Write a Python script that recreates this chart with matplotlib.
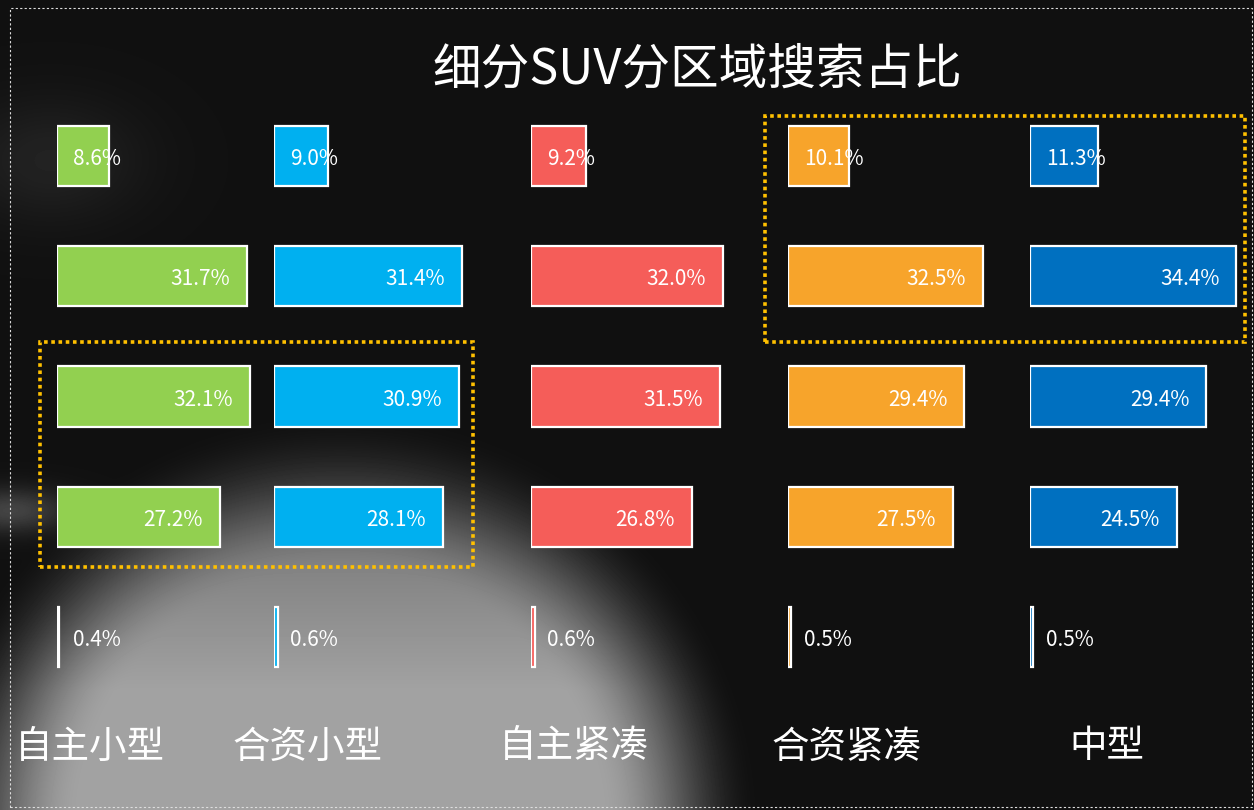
import numpy as np
import matplotlib
matplotlib.use("Agg")
import matplotlib.pyplot as plt
from matplotlib.patches import Rectangle

plt.rcParams['font.family'] = ['Noto Sans CJK SC', 'DejaVu Sans']

# ---------------- data ----------------
title = "细分SUV分区域搜索占比"
categories = ["自主小型", "合资小型", "自主紧凑", "合资紧凑", "中型"]
ziz_xiao = [8.6, 31.7, 32.1, 27.2, 0.4]
hez_xiao = [9.0, 31.4, 30.9, 28.1, 0.6]
ziz_jin = [9.2, 32.0, 31.5, 26.8, 0.6]
hez_jin = [10.1, 32.5, 29.4, 27.5, 0.5]
zhong = [11.3, 34.4, 29.4, 24.5, 0.5]
series = [ziz_xiao, hez_xiao, ziz_jin, hez_jin, zhong]
colors = ["#92D050", "#00B0F0", "#F55D59", "#F7A42B", "#0070C0"]

# ---------------- figure ----------------
W, H = 1254, 810
fig = plt.figure(figsize=(W / 100, H / 100), dpi=100)
fig.patch.set_facecolor("#111111")

# decorative background (gray photo-like glow)
bg_ax = fig.add_axes([0, 0, 1, 1], zorder=0)
X, Y = np.meshgrid(np.arange(W), np.arange(H))
r = np.sqrt(((X - 340) / 420) ** 2 + ((Y - 830) / 420) ** 2)
s = np.clip((1.0 - r) / 0.38, 0, 1)
s = s * s * (3 - 2 * s)
v = 0.55 + 0.45 * np.clip((Y - 430) / 260, 0, 1)
bg = 0.065 + 0.57 * s * v
bg += 0.07 * np.exp(-(((X - 50) / 90) ** 2 + ((Y - 160) / 60) ** 2))
bg += 0.20 * np.exp(-(((X - 10) / 60) ** 2 + ((Y - 510) / 22) ** 2))
bg = np.clip(bg, 0, 1)
bg_ax.imshow(bg, cmap="gray", vmin=0, vmax=1, aspect="auto",
             extent=[0, W, H, 0], interpolation="bilinear")
bg_ax.set_xlim(0, W)
bg_ax.set_ylim(H, 0)
bg_ax.axis("off")

# bar axes: one per column
px_per_pct = 6.0
col_x0 = [57, 274, 531, 788, 1030]
row_top, row_bot = 96, 697
span_pct = 40
for i, (vals, col) in enumerate(zip(series, colors)):
    ax = fig.add_axes([col_x0[i] / W, (H - row_bot) / H,
                       span_pct * px_per_pct / W, (row_bot - row_top) / H],
                      zorder=2)
    ax.patch.set_alpha(0)
    ax.set_xlim(0, span_pct)
    ax.set_ylim(len(vals) - 0.5, -0.5)
    ax.axis("off")
    ypos = np.arange(len(vals))
    ax.barh(ypos, vals, height=0.5, color=col, edgecolor="white",
            linewidth=1.6)
    for y, v_ in zip(ypos, vals):
        if v_ < 15:
            ax.annotate(f"{v_:.1f}%", (0, y), xytext=(16, -3),
                        textcoords="offset pixels", ha="left", va="center",
                        color="white", fontsize=15)
        else:
            ax.annotate(f"{v_:.1f}%", (v_, y), xytext=(-17, -3),
                        textcoords="offset pixels", ha="right", va="center",
                        color="white", fontsize=15)

# category labels
cat_cx = [90, 307, 574, 846, 1107]
for cx, name in zip(cat_cx, categories):
    fig.text(cx / W, 1 - 747 / H, name, ha="center", va="center",
             color="white", fontsize=27, zorder=3)

# title
fig.text(697 / W, 1 - 70 / H, title, ha="center", va="center",
         color="white", fontsize=35, zorder=3)

# dotted highlight boxes
for (x0, y0, x1, y1) in [(40, 342, 473, 567), (765, 116, 1245, 342)]:
    fig.add_artist(Rectangle((x0 / W, 1 - y1 / H), (x1 - x0) / W, (y1 - y0) / H,
                             transform=fig.transFigure, fill=False,
                             edgecolor="#FFC000", linewidth=2.6,
                             linestyle=(0, (1, 1)), zorder=4))

# thin white dotted frame
fig.add_artist(Rectangle((10 / W, 1 - 807 / H), (1252 - 10) / W, (807 - 8) / H,
                         transform=fig.transFigure, fill=False,
                         edgecolor="#DDDDDD", linewidth=0.8,
                         linestyle=(0, (2, 2)), zorder=4))

fig.savefig("out.png", dpi=100, facecolor=fig.get_facecolor())
